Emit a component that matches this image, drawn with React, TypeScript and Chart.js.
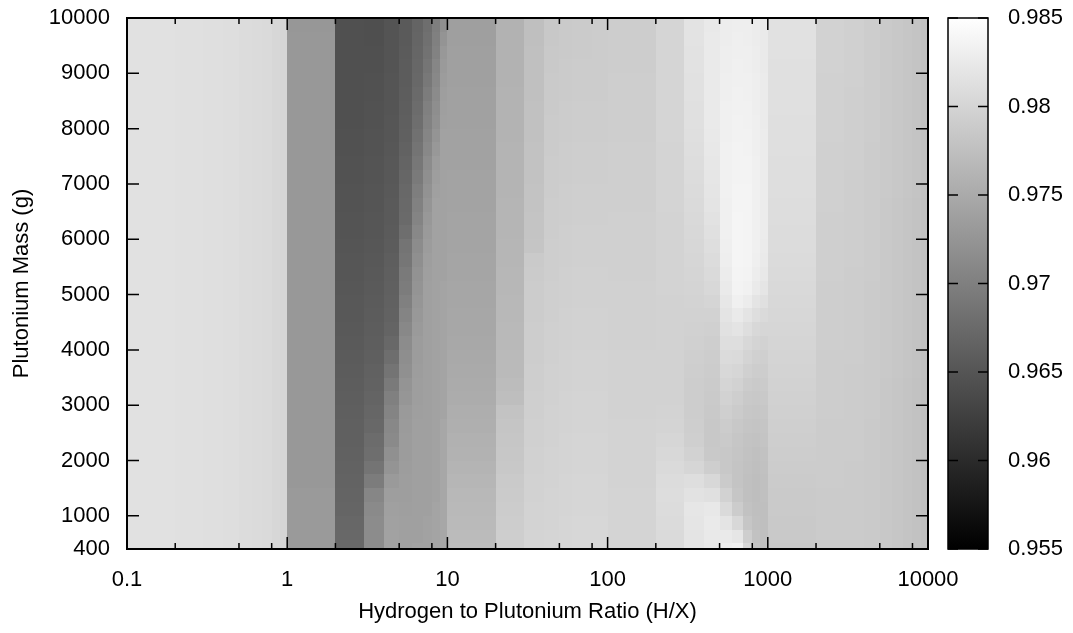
import React, { useEffect, useRef } from "react";
import { Chart, registerables } from "chart.js";

Chart.register(...registerables);

const FONT = '"Liberation Sans", Arial, Helvetica, sans-serif';

// ---- Axis / grid definitions ----
const xEdges = [
  0.1, 0.2, 0.3, 0.4, 0.5, 0.6, 0.7, 0.8, 0.9,
  1, 2, 3, 4, 5, 6, 7, 8, 9,
  10, 20, 30, 40, 50, 60, 70, 80, 90,
  100, 200, 300, 400, 500, 600, 700, 800, 900,
  1000, 2000, 3000, 4000, 5000, 6000, 7000, 8000, 9000,
  10000,
];
const yEdges = [
  400, 500, 750, 1000, 1250, 1500, 1750, 2000, 2250, 2500, 2750, 3000, 3250, 3500,
  3750, 4000, 4250, 4500, 4750, 5000, 5250, 5500, 5750, 6000, 6250, 6500, 6750,
  7000, 7250, 7500, 7750, 8000, 8250, 8500, 8750, 9000, 9250, 9500, 9750, 10000,
];

const xTicks = [0.1, 1, 10, 100, 1000, 10000];
const xTickLabels = ["0.1", "1", "10", "100", "1000", "10000"];
const xMinorTicks = [0.2, 0.5, 0.8, 2, 5, 8, 20, 50, 80, 200, 500, 800, 2000, 5000, 8000];
const yTicks = [400, 1000, 2000, 3000, 4000, 5000, 6000, 7000, 8000, 9000, 10000];
const yTickLabels = ["400", "1000", "2000", "3000", "4000", "5000", "6000", "7000", "8000", "9000", "10000"];
const cbTicks = [0.955, 0.96, 0.965, 0.97, 0.975, 0.98, 0.985];
const cbTickLabels = ["0.955", "0.96", "0.965", "0.97", "0.975", "0.98", "0.985"];
const kMin = 0.955;
const kMax = 0.985;

const xTitle = "Hydrogen to Plutonium Ratio (H/X)";
const yTitle = "Plutonium Mass (g)";

// ---- k values: one array per H/X cell column, rows from 400 g (bottom) to 10000 g (top) ----
// H/X 0.1 .. 1
const kColsA = [
  [0.9815,0.9815,0.9815,0.9815,0.9815,0.9815,0.9815,0.9815,0.9815,0.9815,0.9815,0.9815,0.9815,
   0.9815,0.9815,0.9815,0.9815,0.9815,0.9815,0.9815,0.9815,0.9815,0.9815,0.9815,0.9815,0.9815,
   0.9815,0.9815,0.9815,0.9815,0.9815,0.9815,0.9815,0.9815,0.9815,0.9815,0.9815,0.9815,0.9815],
  [0.9814,0.9814,0.9814,0.9814,0.9814,0.9814,0.9814,0.9814,0.9814,0.9814,0.9814,0.9814,0.9814,
   0.9814,0.9814,0.9814,0.9814,0.9814,0.9814,0.9814,0.9814,0.9814,0.9814,0.9814,0.9814,0.9814,
   0.9814,0.9814,0.9814,0.9814,0.9814,0.9814,0.9814,0.9814,0.9814,0.9814,0.9814,0.9814,0.9814],
  [0.9812,0.9812,0.9812,0.9812,0.9812,0.9812,0.9812,0.9812,0.9812,0.9812,0.9812,0.9812,0.9812,
   0.9812,0.9812,0.9812,0.9812,0.9812,0.9812,0.9812,0.9812,0.9812,0.9812,0.9812,0.9812,0.9812,
   0.9812,0.9812,0.9812,0.9812,0.9812,0.9812,0.9812,0.9812,0.9812,0.9812,0.9812,0.9812,0.9812],
  [0.9811,0.9811,0.9811,0.9811,0.9811,0.9811,0.9811,0.9811,0.9811,0.9811,0.9811,0.9811,0.9811,
   0.9811,0.9811,0.9811,0.9811,0.9811,0.9811,0.9811,0.9811,0.9811,0.9811,0.9811,0.9811,0.9811,
   0.9811,0.9811,0.9811,0.9811,0.9811,0.9811,0.9811,0.9811,0.9811,0.9811,0.9811,0.9811,0.9811],
  [0.9809,0.9809,0.9809,0.9809,0.9809,0.9809,0.9809,0.9809,0.9809,0.9809,0.9809,0.9809,0.9809,
   0.9809,0.9809,0.9809,0.9809,0.9809,0.9809,0.9809,0.9809,0.9809,0.9809,0.9809,0.9809,0.9809,
   0.9809,0.9809,0.9809,0.9809,0.9809,0.9809,0.9809,0.9809,0.9809,0.9809,0.9809,0.9809,0.9809],
  [0.9808,0.9808,0.9808,0.9808,0.9808,0.9808,0.9808,0.9808,0.9808,0.9808,0.9808,0.9808,0.9808,
   0.9808,0.9808,0.9808,0.9808,0.9808,0.9808,0.9808,0.9808,0.9808,0.9808,0.9808,0.9808,0.9808,
   0.9808,0.9808,0.9808,0.9808,0.9808,0.9808,0.9808,0.9808,0.9808,0.9808,0.9808,0.9808,0.9808],
  [0.9806,0.9806,0.9806,0.9806,0.9806,0.9806,0.9806,0.9806,0.9806,0.9806,0.9806,0.9806,0.9806,
   0.9806,0.9806,0.9806,0.9806,0.9806,0.9806,0.9806,0.9806,0.9806,0.9806,0.9806,0.9806,0.9806,
   0.9806,0.9806,0.9806,0.9806,0.9806,0.9806,0.9806,0.9806,0.9806,0.9806,0.9806,0.9806,0.9806],
  [0.9803,0.9803,0.9803,0.9803,0.9803,0.9803,0.9803,0.9803,0.9803,0.9803,0.9803,0.9803,0.9803,
   0.9803,0.9803,0.9803,0.9803,0.9803,0.9803,0.9803,0.9803,0.9803,0.9803,0.9803,0.9803,0.9803,
   0.9803,0.9803,0.9803,0.9803,0.9803,0.9803,0.9803,0.9803,0.9803,0.9803,0.9803,0.9803,0.9803],
  [0.9800,0.9800,0.9800,0.9800,0.9800,0.9800,0.9800,0.9800,0.9800,0.9800,0.9800,0.9800,0.9800,
   0.9800,0.9800,0.9800,0.9800,0.9800,0.9800,0.9800,0.9800,0.9800,0.9800,0.9800,0.9800,0.9800,
   0.9800,0.9800,0.9800,0.9800,0.9800,0.9800,0.9800,0.9800,0.9800,0.9800,0.9800,0.9800,0.9800],
];

// H/X 1 .. 10
const kColsB = [
  [0.9731,0.9731,0.9731,0.9731,0.9731,0.9729,0.9729,0.9729,0.9729,0.9729,0.9729,0.9729,0.9729,
   0.9729,0.9729,0.9729,0.9729,0.9729,0.9729,0.9729,0.9729,0.9729,0.9729,0.9729,0.9729,0.9729,
   0.9729,0.9729,0.9729,0.9729,0.9729,0.9729,0.9729,0.9729,0.9729,0.9729,0.9729,0.9729,0.9728],
  [0.9672,0.9672,0.9671,0.9669,0.9668,0.9666,0.9665,0.9664,0.9663,0.9663,0.9662,0.9661,0.9659,
   0.9658,0.9657,0.9656,0.9655,0.9654,0.9654,0.9652,0.9651,0.9651,0.9650,0.9649,0.9649,0.9648,
   0.9648,0.9646,0.9646,0.9645,0.9645,0.9644,0.9644,0.9644,0.9644,0.9644,0.9644,0.9644,0.9644],
  [0.9715,0.9715,0.9715,0.9712,0.9708,0.9696,0.9686,0.9679,0.9677,0.9672,0.9670,0.9668,0.9665,
   0.9664,0.9662,0.9661,0.9659,0.9658,0.9657,0.9656,0.9655,0.9654,0.9652,0.9651,0.9651,0.9650,
   0.9650,0.9649,0.9649,0.9648,0.9648,0.9646,0.9646,0.9645,0.9645,0.9644,0.9644,0.9643,0.9643],
  [0.9741,0.9741,0.9739,0.9738,0.9736,0.9731,0.9724,0.9719,0.9712,0.9710,0.9705,0.9701,0.9694,
   0.9686,0.9679,0.9672,0.9668,0.9665,0.9664,0.9663,0.9662,0.9661,0.9658,0.9657,0.9656,0.9656,
   0.9655,0.9654,0.9654,0.9652,0.9651,0.9651,0.9650,0.9650,0.9650,0.9649,0.9649,0.9649,0.9649],
  [0.9738,0.9738,0.9738,0.9737,0.9736,0.9736,0.9735,0.9734,0.9734,0.9732,0.9731,0.9726,0.9724,
   0.9719,0.9717,0.9715,0.9710,0.9705,0.9701,0.9696,0.9694,0.9689,0.9686,0.9679,0.9675,0.9674,
   0.9672,0.9670,0.9668,0.9665,0.9663,0.9662,0.9661,0.9659,0.9658,0.9658,0.9657,0.9656,0.9656],
  [0.9741,0.9738,0.9738,0.9738,0.9738,0.9738,0.9738,0.9738,0.9738,0.9738,0.9737,0.9736,0.9736,
   0.9735,0.9734,0.9734,0.9731,0.9729,0.9726,0.9724,0.9722,0.9718,0.9715,0.9710,0.9705,0.9702,
   0.9698,0.9694,0.9690,0.9686,0.9683,0.9679,0.9677,0.9675,0.9672,0.9671,0.9670,0.9669,0.9668],
  [0.9741,0.9741,0.9741,0.9738,0.9738,0.9738,0.9738,0.9738,0.9738,0.9738,0.9738,0.9738,0.9738,
   0.9738,0.9738,0.9738,0.9738,0.9738,0.9738,0.9738,0.9737,0.9736,0.9734,0.9731,0.9729,0.9725,
   0.9722,0.9718,0.9715,0.9710,0.9706,0.9703,0.9701,0.9696,0.9691,0.9688,0.9684,0.9682,0.9679],
  [0.9743,0.9743,0.9743,0.9743,0.9741,0.9741,0.9741,0.9741,0.9741,0.9741,0.9741,0.9741,0.9741,
   0.9741,0.9741,0.9741,0.9741,0.9741,0.9741,0.9741,0.9741,0.9741,0.9741,0.9741,0.9741,0.9741,
   0.9738,0.9736,0.9734,0.9729,0.9724,0.9719,0.9717,0.9714,0.9710,0.9708,0.9703,0.9701,0.9698],
  [0.9746,0.9746,0.9746,0.9746,0.9746,0.9746,0.9746,0.9746,0.9746,0.9746,0.9743,0.9743,0.9743,
   0.9743,0.9743,0.9743,0.9743,0.9743,0.9743,0.9743,0.9741,0.9741,0.9741,0.9741,0.9741,0.9741,
   0.9741,0.9741,0.9741,0.9741,0.9741,0.9738,0.9737,0.9736,0.9734,0.9731,0.9729,0.9724,0.9719],
];

// H/X 10 .. 100
const kColsC = [
  [0.9771,0.9770,0.9769,0.9768,0.9766,0.9764,0.9762,0.9759,0.9758,0.9756,0.9755,0.9752,0.9751,
   0.9750,0.9749,0.9748,0.9746,0.9746,0.9745,0.9745,0.9744,0.9744,0.9743,0.9743,0.9743,0.9742,
   0.9742,0.9742,0.9741,0.9741,0.9741,0.9739,0.9739,0.9739,0.9738,0.9738,0.9738,0.9737,0.9737],
  [0.9792,0.9792,0.9791,0.9790,0.9789,0.9788,0.9785,0.9784,0.9783,0.9782,0.9779,0.9774,0.9771,
   0.9769,0.9769,0.9768,0.9768,0.9766,0.9766,0.9765,0.9765,0.9764,0.9764,0.9763,0.9763,0.9763,
   0.9762,0.9762,0.9762,0.9762,0.9761,0.9761,0.9761,0.9761,0.9759,0.9759,0.9759,0.9759,0.9759],
  [0.9799,0.9799,0.9798,0.9798,0.9797,0.9797,0.9796,0.9796,0.9795,0.9795,0.9794,0.9794,0.9792,
   0.9792,0.9791,0.9791,0.9791,0.9790,0.9790,0.9790,0.9789,0.9788,0.9782,0.9781,0.9781,0.9779,
   0.9779,0.9778,0.9778,0.9778,0.9777,0.9777,0.9777,0.9776,0.9776,0.9776,0.9776,0.9775,0.9775],
  [0.9801,0.9801,0.9799,0.9799,0.9799,0.9798,0.9798,0.9798,0.9797,0.9797,0.9797,0.9796,0.9796,
   0.9796,0.9795,0.9795,0.9795,0.9794,0.9794,0.9794,0.9792,0.9792,0.9792,0.9791,0.9791,0.9791,
   0.9790,0.9790,0.9790,0.9789,0.9789,0.9789,0.9788,0.9788,0.9788,0.9786,0.9786,0.9785,0.9785],
  [0.9802,0.9802,0.9802,0.9801,0.9801,0.9801,0.9799,0.9799,0.9799,0.9798,0.9798,0.9798,0.9797,
   0.9797,0.9797,0.9796,0.9796,0.9796,0.9795,0.9795,0.9795,0.9794,0.9794,0.9794,0.9792,0.9792,
   0.9792,0.9791,0.9791,0.9791,0.9790,0.9790,0.9790,0.9789,0.9789,0.9789,0.9788,0.9788,0.9788],
  [0.9803,0.9803,0.9803,0.9802,0.9802,0.9802,0.9801,0.9801,0.9801,0.9799,0.9799,0.9799,0.9798,
   0.9798,0.9798,0.9797,0.9797,0.9797,0.9796,0.9796,0.9796,0.9795,0.9795,0.9795,0.9794,0.9794,
   0.9794,0.9792,0.9792,0.9792,0.9791,0.9791,0.9791,0.9790,0.9790,0.9790,0.9789,0.9789,0.9789],
  [0.9803,0.9803,0.9803,0.9802,0.9802,0.9802,0.9801,0.9801,0.9801,0.9799,0.9799,0.9799,0.9798,
   0.9798,0.9798,0.9797,0.9797,0.9797,0.9796,0.9796,0.9796,0.9795,0.9795,0.9795,0.9794,0.9794,
   0.9794,0.9792,0.9792,0.9792,0.9791,0.9791,0.9791,0.9790,0.9790,0.9790,0.9789,0.9789,0.9789],
  [0.9803,0.9803,0.9803,0.9802,0.9802,0.9802,0.9801,0.9801,0.9801,0.9799,0.9799,0.9799,0.9798,
   0.9798,0.9798,0.9797,0.9797,0.9797,0.9796,0.9796,0.9796,0.9795,0.9795,0.9795,0.9794,0.9794,
   0.9794,0.9792,0.9792,0.9792,0.9791,0.9791,0.9791,0.9790,0.9790,0.9790,0.9790,0.9790,0.9790],
  [0.9803,0.9803,0.9803,0.9802,0.9802,0.9802,0.9801,0.9801,0.9801,0.9799,0.9799,0.9799,0.9798,
   0.9798,0.9798,0.9797,0.9797,0.9797,0.9796,0.9796,0.9796,0.9795,0.9795,0.9795,0.9794,0.9794,
   0.9794,0.9792,0.9792,0.9792,0.9791,0.9791,0.9791,0.9790,0.9790,0.9790,0.9790,0.9790,0.9790],
];

// H/X 100 .. 1000
const kColsD = [
  [0.9799,0.9799,0.9799,0.9799,0.9799,0.9798,0.9798,0.9798,0.9798,0.9798,0.9797,0.9797,0.9797,
   0.9797,0.9797,0.9796,0.9796,0.9796,0.9796,0.9796,0.9795,0.9795,0.9795,0.9795,0.9795,0.9794,
   0.9794,0.9794,0.9794,0.9794,0.9792,0.9792,0.9792,0.9792,0.9792,0.9791,0.9791,0.9791,0.9791],
  [0.9806,0.9806,0.9808,0.9809,0.9810,0.9809,0.9806,0.9804,0.9802,0.9799,0.9798,0.9797,0.9797,
   0.9797,0.9797,0.9797,0.9797,0.9797,0.9797,0.9798,0.9798,0.9798,0.9798,0.9798,0.9798,0.9799,
   0.9799,0.9799,0.9799,0.9799,0.9801,0.9801,0.9801,0.9801,0.9801,0.9801,0.9801,0.9801,0.9801],
  [0.9818,0.9818,0.9819,0.9821,0.9816,0.9811,0.9802,0.9797,0.9794,0.9792,0.9791,0.9791,0.9791,
   0.9792,0.9794,0.9795,0.9796,0.9797,0.9798,0.9799,0.9801,0.9802,0.9803,0.9804,0.9805,0.9806,
   0.9808,0.9809,0.9810,0.9811,0.9812,0.9814,0.9814,0.9815,0.9815,0.9816,0.9816,0.9817,0.9817],
  [0.9823,0.9824,0.9825,0.9823,0.9814,0.9804,0.9792,0.9786,0.9785,0.9785,0.9786,0.9788,0.9789,
   0.9790,0.9791,0.9792,0.9795,0.9797,0.9801,0.9804,0.9806,0.9809,0.9811,0.9814,0.9816,0.9818,
   0.9819,0.9821,0.9822,0.9823,0.9824,0.9825,0.9825,0.9825,0.9825,0.9825,0.9825,0.9825,0.9824],
  [0.9830,0.9825,0.9818,0.9806,0.9797,0.9789,0.9785,0.9785,0.9788,0.9790,0.9794,0.9797,0.9801,
   0.9804,0.9808,0.9811,0.9815,0.9818,0.9822,0.9825,0.9828,0.9830,0.9831,0.9832,0.9832,0.9832,
   0.9834,0.9834,0.9834,0.9834,0.9832,0.9832,0.9832,0.9831,0.9831,0.9830,0.9830,0.9829,0.9829],
  [0.9832,0.9821,0.9804,0.9790,0.9783,0.9781,0.9781,0.9782,0.9783,0.9785,0.9789,0.9792,0.9797,
   0.9802,0.9806,0.9811,0.9818,0.9825,0.9832,0.9836,0.9837,0.9838,0.9838,0.9838,0.9838,0.9837,
   0.9837,0.9836,0.9836,0.9836,0.9835,0.9835,0.9834,0.9834,0.9832,0.9832,0.9831,0.9831,0.9830],
  [0.9802,0.9792,0.9783,0.9778,0.9776,0.9776,0.9777,0.9778,0.9779,0.9782,0.9784,0.9786,0.9790,
   0.9795,0.9799,0.9804,0.9811,0.9818,0.9828,0.9834,0.9836,0.9837,0.9837,0.9837,0.9837,0.9837,
   0.9837,0.9836,0.9836,0.9835,0.9835,0.9834,0.9834,0.9832,0.9832,0.9831,0.9831,0.9830,0.9830],
  [0.9781,0.9778,0.9776,0.9775,0.9774,0.9774,0.9775,0.9776,0.9778,0.9781,0.9783,0.9785,0.9788,
   0.9791,0.9795,0.9799,0.9804,0.9811,0.9818,0.9825,0.9829,0.9831,0.9832,0.9832,0.9832,0.9832,
   0.9832,0.9832,0.9832,0.9831,0.9831,0.9831,0.9830,0.9830,0.9830,0.9829,0.9829,0.9828,0.9828],
  [0.9776,0.9776,0.9775,0.9775,0.9776,0.9776,0.9777,0.9778,0.9781,0.9782,0.9784,0.9786,0.9789,
   0.9791,0.9794,0.9797,0.9802,0.9806,0.9814,0.9819,0.9823,0.9825,0.9826,0.9828,0.9828,0.9828,
   0.9828,0.9828,0.9828,0.9828,0.9828,0.9826,0.9826,0.9826,0.9826,0.9825,0.9825,0.9825,0.9825],
];

// H/X 1000 .. 10000
const kColsE = [
  [0.9785,0.9786,0.9786,0.9788,0.9788,0.9789,0.9790,0.9791,0.9792,0.9794,0.9795,0.9796,0.9797,
   0.9798,0.9799,0.9801,0.9802,0.9803,0.9804,0.9805,0.9806,0.9808,0.9809,0.9809,0.9810,0.9810,
   0.9811,0.9811,0.9811,0.9812,0.9812,0.9812,0.9814,0.9814,0.9814,0.9814,0.9815,0.9815,0.9815],
  [0.9789,0.9789,0.9789,0.9789,0.9789,0.9790,0.9790,0.9790,0.9790,0.9790,0.9791,0.9791,0.9791,
   0.9791,0.9791,0.9792,0.9792,0.9792,0.9792,0.9792,0.9794,0.9794,0.9794,0.9794,0.9794,0.9795,
   0.9795,0.9795,0.9795,0.9795,0.9796,0.9796,0.9796,0.9796,0.9796,0.9797,0.9797,0.9797,0.9797],
  [0.9789,0.9789,0.9789,0.9789,0.9789,0.9789,0.9789,0.9790,0.9790,0.9790,0.9790,0.9790,0.9790,
   0.9790,0.9791,0.9791,0.9791,0.9791,0.9791,0.9791,0.9791,0.9792,0.9792,0.9792,0.9792,0.9792,
   0.9792,0.9792,0.9794,0.9794,0.9794,0.9794,0.9794,0.9794,0.9795,0.9795,0.9795,0.9795,0.9795],
  [0.9788,0.9788,0.9788,0.9788,0.9788,0.9788,0.9788,0.9788,0.9788,0.9788,0.9789,0.9789,0.9789,
   0.9789,0.9789,0.9789,0.9789,0.9789,0.9789,0.9789,0.9790,0.9790,0.9790,0.9790,0.9790,0.9790,
   0.9790,0.9790,0.9790,0.9790,0.9791,0.9791,0.9791,0.9791,0.9791,0.9791,0.9791,0.9791,0.9791],
  [0.9785,0.9785,0.9785,0.9785,0.9785,0.9785,0.9785,0.9785,0.9785,0.9785,0.9785,0.9785,0.9785,
   0.9786,0.9786,0.9786,0.9786,0.9786,0.9786,0.9786,0.9786,0.9786,0.9786,0.9786,0.9786,0.9786,
   0.9788,0.9788,0.9788,0.9788,0.9788,0.9788,0.9788,0.9788,0.9788,0.9788,0.9788,0.9788,0.9788],
  [0.9783,0.9783,0.9783,0.9783,0.9783,0.9783,0.9783,0.9783,0.9783,0.9783,0.9783,0.9783,0.9783,
   0.9784,0.9784,0.9784,0.9784,0.9784,0.9784,0.9784,0.9784,0.9784,0.9784,0.9784,0.9784,0.9784,
   0.9785,0.9785,0.9785,0.9785,0.9785,0.9785,0.9785,0.9785,0.9785,0.9785,0.9785,0.9785,0.9785],
  [0.9781,0.9781,0.9781,0.9781,0.9781,0.9781,0.9781,0.9781,0.9781,0.9781,0.9781,0.9781,0.9781,
   0.9782,0.9782,0.9782,0.9782,0.9782,0.9782,0.9782,0.9782,0.9782,0.9782,0.9782,0.9782,0.9782,
   0.9783,0.9783,0.9783,0.9783,0.9783,0.9783,0.9783,0.9783,0.9783,0.9783,0.9783,0.9783,0.9783],
  [0.9778,0.9778,0.9778,0.9778,0.9778,0.9778,0.9778,0.9778,0.9778,0.9778,0.9778,0.9778,0.9778,
   0.9779,0.9779,0.9779,0.9779,0.9779,0.9779,0.9779,0.9779,0.9779,0.9779,0.9779,0.9779,0.9779,
   0.9781,0.9781,0.9781,0.9781,0.9781,0.9781,0.9781,0.9781,0.9781,0.9781,0.9781,0.9781,0.9781],
  [0.9776,0.9776,0.9776,0.9776,0.9776,0.9776,0.9776,0.9776,0.9776,0.9776,0.9776,0.9776,0.9776,
   0.9777,0.9777,0.9777,0.9777,0.9777,0.9777,0.9777,0.9777,0.9777,0.9777,0.9777,0.9777,0.9777,
   0.9778,0.9778,0.9778,0.9778,0.9778,0.9778,0.9778,0.9778,0.9778,0.9778,0.9778,0.9778,0.9778],
];

const kColumns: number[][] = [...kColsA, ...kColsB, ...kColsC, ...kColsD, ...kColsE];

function grayFor(v: number): string {
  const t = Math.min(1, Math.max(0, (v - kMin) / (kMax - kMin)));
  const g = Math.round(t * 255);
  return `rgb(${g},${g},${g})`;
}

const heatmapPlugin = {
  id: "heatmapCells",
  beforeDatasetsDraw(chart: any) {
    const { ctx, chartArea } = chart;
    const xs = chart.scales.x;
    const ys = chart.scales.y;
    ctx.save();
    ctx.beginPath();
    ctx.rect(chartArea.left, chartArea.top, chartArea.right - chartArea.left, chartArea.bottom - chartArea.top);
    ctx.clip();
    for (let i = 0; i < kColumns.length; i++) {
      const xa = Math.round(xs.getPixelForValue(xEdges[i]));
      const xb = Math.round(xs.getPixelForValue(xEdges[i + 1]));
      const col = kColumns[i];
      for (let j = 0; j < col.length; j++) {
        const yb = Math.round(ys.getPixelForValue(yEdges[j]));
        const yt = Math.round(ys.getPixelForValue(yEdges[j + 1]));
        ctx.fillStyle = grayFor(col[j]);
        ctx.fillRect(xa, yt, xb - xa, yb - yt);
      }
    }
    ctx.restore();
  },
  afterDatasetsDraw(chart: any) {
    const { ctx, chartArea } = chart;
    const xs = chart.scales.x;
    const ys = chart.scales.y;
    const cb = chart.scales.cb;
    const { left, right, top, bottom } = chartArea;
    ctx.save();
    ctx.strokeStyle = "#000";
    ctx.lineWidth = 1.5;
    ctx.beginPath();
    const major = 12;
    const minor = 6;
    xTicks.forEach((v) => {
      const px = xs.getPixelForValue(v);
      ctx.moveTo(px, bottom); ctx.lineTo(px, bottom - major);
      ctx.moveTo(px, top); ctx.lineTo(px, top + major);
    });
    xMinorTicks.forEach((v) => {
      const px = xs.getPixelForValue(v);
      ctx.moveTo(px, bottom); ctx.lineTo(px, bottom - minor);
      ctx.moveTo(px, top); ctx.lineTo(px, top + minor);
    });
    yTicks.forEach((v) => {
      const py = ys.getPixelForValue(v);
      ctx.moveTo(left, py); ctx.lineTo(left + major, py);
      ctx.moveTo(right, py); ctx.lineTo(right - major, py);
    });
    ctx.stroke();
    ctx.lineWidth = 2;
    ctx.strokeRect(left, top, right - left, bottom - top);

    // colour box
    const bx = right + 20;
    const bw = 40;
    const yTop = cb.getPixelForValue(kMax);
    const yBot = cb.getPixelForValue(kMin);
    const grad = ctx.createLinearGradient(0, yBot, 0, yTop);
    grad.addColorStop(0, "rgb(0,0,0)");
    grad.addColorStop(1, "rgb(255,255,255)");
    ctx.fillStyle = grad;
    ctx.fillRect(bx, yTop, bw, yBot - yTop);
    ctx.lineWidth = 1.5;
    ctx.strokeRect(bx, yTop, bw, yBot - yTop);
    ctx.beginPath();
    cbTicks.forEach((v) => {
      const py = cb.getPixelForValue(v);
      ctx.moveTo(bx, py); ctx.lineTo(bx + 10, py);
      ctx.moveTo(bx + bw, py); ctx.lineTo(bx + bw - 10, py);
    });
    ctx.stroke();
    ctx.restore();
  },
};

export default function App() {
  const canvasRef = useRef<HTMLCanvasElement | null>(null);

  useEffect(() => {
    const canvas = canvasRef.current;
    if (!canvas) return;
    const font = { family: FONT, size: 22 };
    const chart = new Chart(canvas, {
      type: "scatter",
      data: { datasets: [] },
      options: {
        responsive: false,
        animation: false,
        devicePixelRatio: 1,
        layout: { padding: { top: 18, left: 0, right: 0, bottom: 0 } },
        plugins: { legend: { display: false }, tooltip: { enabled: false } },
        scales: {
          x: {
            type: "logarithmic",
            position: "bottom",
            min: 0.1,
            max: 10000,
            grid: { display: false },
            border: { display: false },
            afterBuildTicks: (s: any) => {
              s.ticks = xTicks.map((v) => ({ value: v }));
            },
            afterFit: (s: any) => {
              s.height = 84;
            },
            ticks: {
              autoSkip: false,
              maxRotation: 0,
              minRotation: 0,
              padding: 10,
              color: "#000",
              font,
              callback: (_v: any, i: number) => xTickLabels[i],
            },
            title: {
              display: true,
              text: xTitle,
              color: "#000",
              font,
              padding: { top: 0, bottom: 8 },
            },
          },
          y: {
            type: "linear",
            position: "left",
            min: 400,
            max: 10000,
            grid: {
              display: true,
              drawOnChartArea: false,
              drawTicks: true,
              tickLength: 15,
              color: "rgba(0,0,0,0)",
            },
            border: { display: false },
            afterBuildTicks: (s: any) => {
              s.ticks = yTicks.map((v) => ({ value: v }));
            },
            afterFit: (s: any) => {
              s.width = 127;
            },
            ticks: {
              autoSkip: false,
              padding: 2,
              color: "#000",
              font,
              callback: (_v: any, i: number) => yTickLabels[i],
            },
            title: {
              display: true,
              text: yTitle,
              color: "#000",
              font,
              padding: { top: 9, bottom: 0 },
            },
          },
          cb: {
            type: "linear",
            position: "right",
            min: kMin,
            max: kMax,
            grid: {
              display: true,
              drawOnChartArea: false,
              drawTicks: true,
              tickLength: 78,
              color: "rgba(0,0,0,0)",
            },
            border: { display: false },
            afterBuildTicks: (s: any) => {
              s.ticks = cbTicks.map((v) => ({ value: v }));
            },
            afterFit: (s: any) => {
              s.width = 145;
            },
            ticks: {
              autoSkip: false,
              padding: 2,
              color: "#000",
              font,
              callback: (_v: any, i: number) => cbTickLabels[i],
            },
          },
        },
      } as any,
      plugins: [heatmapPlugin],
    });
    return () => chart.destroy();
  }, []);

  return (
    <div style={{ position: "absolute", left: 0, top: 0, width: 1073, height: 633, background: "#fff" }}>
      <canvas ref={canvasRef} width={1073} height={633} style={{ display: "block" }} />
    </div>
  );
}
